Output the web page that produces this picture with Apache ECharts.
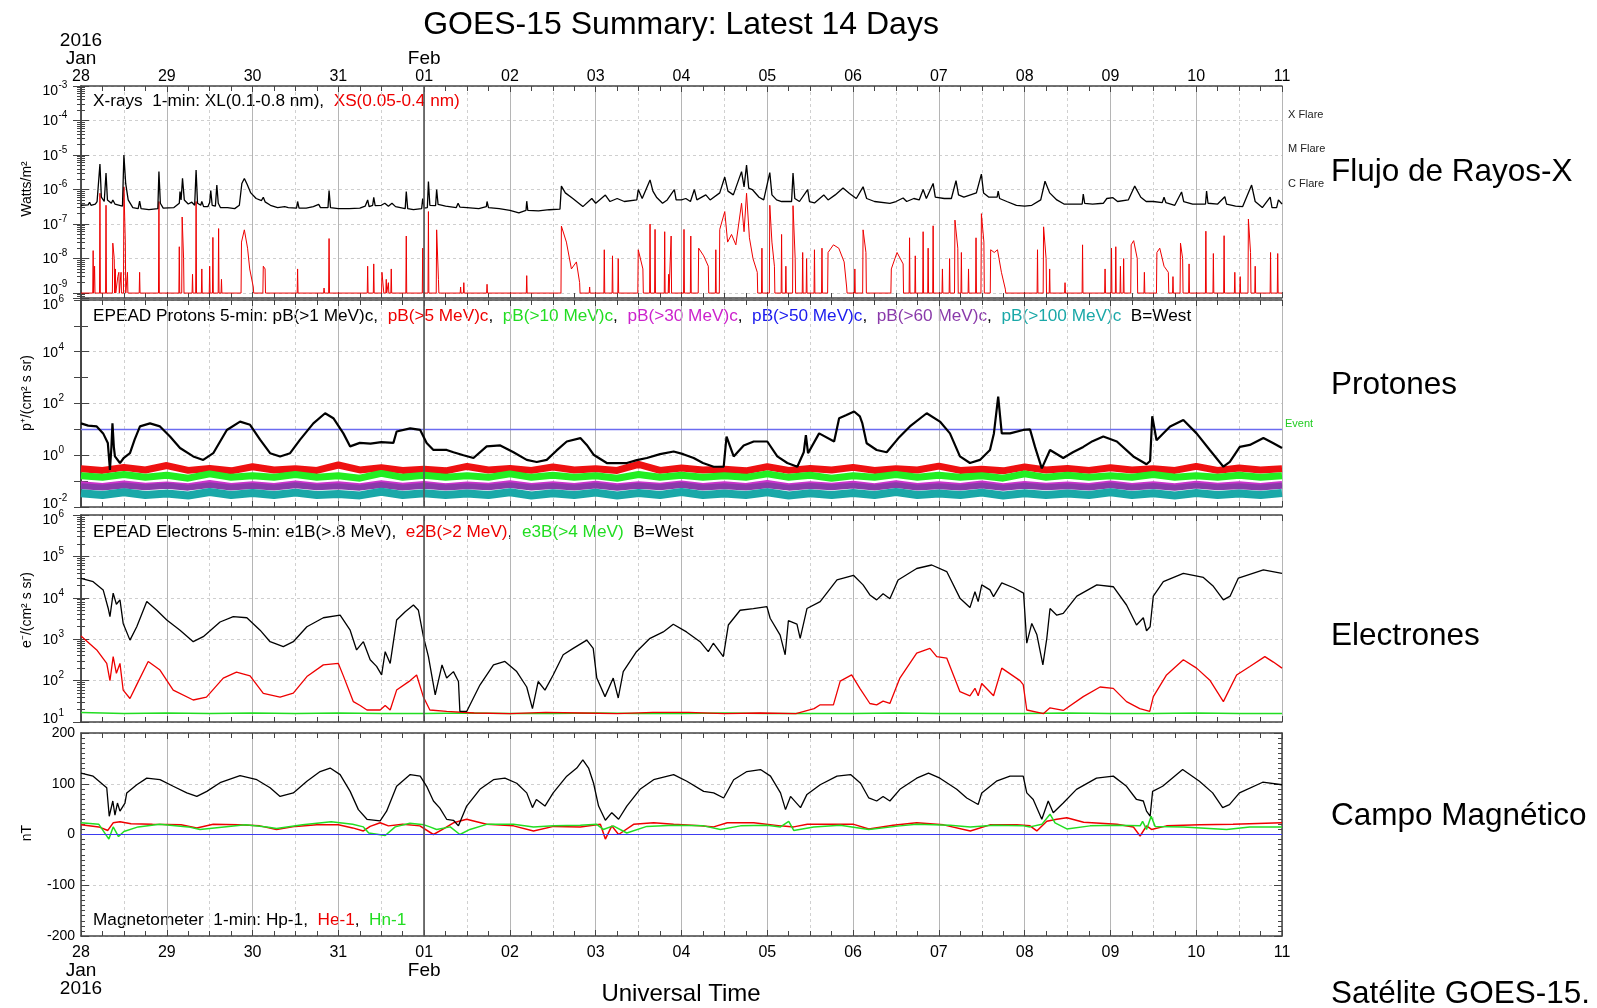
<!DOCTYPE html>
<html><head><meta charset="utf-8">
<script src="https://cdn.jsdelivr.net/npm/echarts@6/dist/echarts.min.js"></script>
<style>html,body{margin:0;padding:0;background:#fff}#c{width:1597px;height:1008px}</style>
</head><body><div id="c"></div>
<script>
// ---------------- DATA (hours since 2016-01-28 00:00 UT) ----------------
const DAY_LABELS = ['28','29','30','31','01','02','03','04','05','06','07','08','09','10','11'];
// decade exponents labelled on each log axis (tick labels)
const XRAY_EXPONENTS = [-3,-4,-5,-6,-7,-8,-9];
const PROTON_EXPONENTS = [6,4,2,0,-2];
const ELECTRON_EXPONENTS = [6,5,4,3,2,1];

// X-rays long channel XL (0.1-0.8 nm), W/m^2
const XL = [[0,3.5e-7],[2,3.6e-7],[2.4,4.3e-7],[2.8,3.5e-7],[4,3.8e-7],[4.5,4.5e-7],[5,4e-7],[5.3,5.5e-6],[5.7,6e-7],[6.5,4.5e-7],[7.0,3e-6],[7.4,5e-7],[8.5,4e-7],[8.9,5e-7],[9.5,3.8e-7],[11.6,3.3e-7],[12.0,1e-5],[12.5,1.5e-6],[13.2,5e-7],[14.5,3e-7],[16.0,2.8e-7],[16.4,4.6e-7],[16.8,2.8e-7],[19,2.6e-7],[21.5,2.8e-7],[21.8,3.3e-6],[22.2,4e-7],[23,2.9e-7],[26,3e-7],[27.5,4e-7],[27.7,8.7e-7],[28.0,5e-7],[28.4,2.1e-6],[28.9,5e-7],[30,3.8e-7],[31,4.3e-7],[31.8,3.5e-7],[32.2,3.7e-6],[32.6,4e-7],[33.5,3.5e-7],[33.8,4.5e-7],[34.3,3.2e-7],[35.5,3.2e-7],[36.0,4.2e-7],[36.3,9.3e-7],[36.7,3.5e-7],[37.6,3.3e-7],[38.0,1.35e-6],[38.4,4e-7],[39,3e-7],[41,3e-7],[43,2.8e-7],[44.3,3.5e-7],[45,1.5e-6],[45.7,2.1e-6],[46.5,1.4e-6],[47.5,8e-7],[49,5.5e-7],[50.5,4.8e-7],[51.0,6e-7],[51.5,4.4e-7],[53,3.5e-7],[55,3e-7],[57,3.2e-7],[58,3e-7],[60.3,2.9e-7],[60.6,4.5e-7],[61,2.9e-7],[63,2.9e-7],[65,3.2e-7],[66.5,3.7e-7],[67,3e-7],[69.1,3e-7],[69.4,9.3e-7],[69.8,3e-7],[72,2.8e-7],[75,2.8e-7],[78,2.9e-7],[79.5,3.3e-7],[80.2,5e-7],[80.6,3.2e-7],[81.6,3.5e-7],[81.9,5.9e-7],[82.3,3.4e-7],[84,3.5e-7],[85,4e-7],[86,3.3e-7],[87,4e-7],[88,3.2e-7],[90.7,2.8e-7],[91.0,8.7e-7],[91.4,2.8e-7],[93,2.6e-7],[95.3,2.8e-7],[95.6,5.5e-7],[96,2.9e-7],[96.9,3e-7],[97.2,1.7e-6],[97.6,3.5e-7],[99.2,3.4e-7],[99.5,1e-6],[99.9,3.7e-7],[102,3.3e-7],[105,3e-7],[105.5,4e-7],[106,3.1e-7],[108,3e-7],[111.3,2.8e-7],[113.4,3.2e-7],[113.6,4.5e-7],[114,3e-7],[117,2.8e-7],[120,2.5e-7],[122.5,2.1e-7],[124.5,2.5e-7],[124.7,4.6e-7],[125,2.5e-7],[128,2.4e-7],[131,2.6e-7],[134,2.7e-7],[134.4,1.26e-6],[135.5,8e-7],[137.6,5.5e-7],[140.4,3.2e-7],[142.9,5.5e-7],[144,4e-7],[146.7,6.9e-7],[148,4.5e-7],[150,5.5e-7],[152,4.5e-7],[155.5,5e-7],[155.9,1e-6],[157,5.5e-7],[159.2,1.9e-6],[160,9e-7],[161,6e-7],[162.7,4e-7],[164,5e-7],[166,1e-6],[166.5,5e-7],[168,5e-7],[169.2,5.5e-7],[170.5,4.5e-7],[171.6,1e-6],[172.3,5e-7],[174.8,7e-7],[176,5e-7],[178.7,8e-7],[180.1,2.3e-6],[181,9e-7],[182.5,7e-7],[184.8,3.3e-6],[185.5,1.2e-6],[186.2,5.1e-6],[186.8,1.1e-6],[187.8,1e-6],[189.7,6e-7],[191,5e-7],[192.7,3.1e-6],[193.3,7e-7],[194.6,5e-7],[196,4.5e-7],[198.8,4.5e-7],[199.2,3e-6],[199.7,5.5e-7],[201,4.5e-7],[203.3,1e-6],[203.8,4.5e-7],[205.2,4.1e-7],[207.8,7e-7],[209,5e-7],[211,7e-7],[213.2,1.1e-6],[215,7.7e-7],[216.9,5.5e-7],[218.8,1.2e-6],[219.8,5.5e-7],[222,4.5e-7],[226.3,4e-7],[228,4.5e-7],[230,5.7e-7],[231,4.5e-7],[233,5.5e-7],[234.5,5e-7],[235.6,1e-6],[236.5,5.5e-7],[238.4,1.5e-6],[239,6e-7],[241.5,5.5e-7],[243.5,5.5e-7],[244.8,1.8e-6],[245.5,7e-7],[247,6e-7],[250.5,8e-7],[251.9,2.8e-6],[252.5,8e-7],[254,6e-7],[256.3,6e-7],[256.6,9e-7],[257,5.5e-7],[259,4.5e-7],[261.7,3.5e-7],[264,3.3e-7],[266,3.5e-7],[268.5,5e-7],[269.7,1.74e-6],[271,8e-7],[273,5e-7],[275,3.8e-7],[278,3.8e-7],[280.1,3.8e-7],[280.4,7.4e-7],[280.8,4e-7],[283,3.8e-7],[286,4e-7],[287,5.5e-7],[288.7,5.8e-7],[290,4.5e-7],[293,5e-7],[294.8,1.26e-6],[296.5,6e-7],[298,4.5e-7],[300,4.5e-7],[302.5,4.2e-7],[303,6e-7],[303.5,4.2e-7],[306,3.5e-7],[307.9,8.5e-7],[308.5,4.5e-7],[311,3.8e-7],[314.6,3.8e-7],[314.9,9e-7],[315.3,4e-7],[318,3.8e-7],[320,6.2e-7],[320.5,3.8e-7],[323,3.3e-7],[325,3.2e-7],[327.5,1.35e-6],[328.5,4.5e-7],[330.5,3e-7],[332.7,6e-7],[333.2,3e-7],[334.5,3e-7],[335,5e-7],[336,3.8e-7]];

// X-rays short channel XS (0.05-0.4 nm): bursts above the instrument floor
const XS_FLOOR = 1e-9;
const XS_EVENTS = [[[3.4,1.7e-8]],[[3.8,6e-9]],[[5.3,7.8e-7]],[[7.0,3.5e-7]],[[8.9,2.8e-8],[9.3,1e-8]],[[9.6,5e-9]],[[10.3,3e-9],[10.6,4e-9]],[[11.2,4e-9]],[[12.0,1.2e-6],[12.4,3e-8]],[[13.0,4e-9]],[[16.4,4e-9]],[[21.8,4.5e-7]],[[27.5,2.2e-8]],[[28.3,1.6e-7],[28.7,1e-8]],[[31.2,3.5e-9]],[[32.2,4.5e-7]],[[33.8,5e-9]],[[36.0,6e-9]],[[36.9,4.1e-8]],[[38.5,7.4e-8]],[[39.3,2.5e-9]],[[44.9,3e-8],[45.7,6.8e-8],[46.6,2e-8],[47.2,5e-9],[48.2,1.5e-9]],[[51.0,6e-9],[51.5,5e-9]],[[60.6,5e-9]],[[68.0,1.4e-9]],[[69.4,3.8e-8]],[[80.2,6e-9]],[[81.9,7e-9]],[[84.2,4e-9],[84.6,4e-9]],[[85.4,2.5e-9]],[[86.0,2e-9]],[[86.8,5e-9]],[[91.0,4.5e-8]],[[95.6,2e-8]],[[97.2,2.3e-7]],[[99.5,6.8e-8],[100,2.5e-9]],[[106.2,1.5e-9]],[[107.1,2e-9]],[[113.6,1.8e-9]],[[124.7,3.2e-9]],[[134.4,8.7e-8],[135.8,3e-8],[137.2,5e-9],[138.6,8e-9],[139.5,2e-9]],[[142.3,1.5e-9]],[[146.4,1.8e-8]],[[148.7,1.2e-8]],[[150.3,1e-8]],[[155.9,1.8e-8],[157.2,5e-9]],[[159.2,1e-7]],[[160.6,7e-8]],[[163.3,6e-8]],[[164.4,3.5e-9]],[[165.1,4.5e-8]],[[168.7,7e-8]],[[170.6,4.5e-8]],[[172.8,2e-8],[174.2,1.2e-8],[175.5,6e-9]],[[177.6,1.8e-8]],[[178.7,7e-8],[180.1,2.3e-7],[180.9,3e-8],[182,5e-8],[183.2,2.5e-8],[184.8,4e-7],[185.5,6e-8],[186.2,7.8e-7],[187,4e-8],[188,1e-8],[189.2,4e-9]],[[190.5,2e-8]],[[192.7,3.5e-7],[193.3,3e-8],[194,6e-9]],[[196,5e-8]],[[197.2,6e-9]],[[199.2,3.4e-7],[199.8,1e-8]],[[201.9,1.5e-8]],[[203,1e-8]],[[205.2,1.8e-8]],[[207.3,2e-8]],[[209,1.5e-8],[210.5,2.5e-8],[212,2e-8],[213.5,8e-9],[214.2,1.5e-9]],[[216.5,5e-9]],[[218.8,6.8e-8],[219.6,1.5e-8]],[[226.7,5e-9],[228.3,1.5e-8],[230,7e-9]],[[231.8,4e-8]],[[233.4,1.2e-8]],[[235.6,6e-8]],[[237.0,2e-8]],[[238.4,8.9e-8]],[[241,5e-9]],[[243,1e-8]],[[244.5,1.3e-7],[245.3,2e-8]],[[246.3,1.5e-8]],[[248.3,5e-9]],[[250.4,4e-8]],[[251.9,2e-7],[252.6,3e-8]],[[254.5,1.8e-8],[255.5,1.5e-8],[256.4,1.8e-8],[257.5,4e-9],[258.6,1.3e-9]],[[267.6,1.8e-8]],[[269.3,8.3e-8],[270,1e-8]],[[271,5e-9]],[[275.3,2e-9]],[[280.2,2.5e-8]],[[286.5,5e-9]],[[288.3,2e-8]],[[289.5,2.2e-8]],[[290.8,6e-9]],[[291.7,1e-8]],[[293.8,2.5e-8],[294.5,3.3e-8],[295.5,1e-8]],[[297.5,4e-9]],[[301,1.5e-8],[301.8,2e-8],[303,6e-9],[304.2,4e-9]],[[305.5,3e-9]],[[307.6,2.8e-8],[308.2,1e-8]],[[310,7e-9]],[[314.7,6.2e-8]],[[316.8,1.4e-8]],[[319.8,4.6e-8]],[[322.8,4e-9]],[[324.3,3e-9]],[[326.6,1.4e-7],[327.2,1.5e-8]],[[328.5,6e-9]],[[332.8,1.5e-8]],[[334.8,1.4e-8]]];

// Flare thresholds
const FLARE_NAMES = ['X Flare','M Flare','C Flare'];
const FLARE_VALUES = [1e-4,1e-5,1e-6];

// Protons pB(>1 MeV)
const P1 = [[0,17],[2,14],[4.4,13],[6.2,7],[7.5,3],[8.1,0.27],[8.5,2],[8.8,17],[9.2,2],[9.5,0.9],[10.9,0.5],[12,0.8],[13.7,1.2],[15,4],[16.5,13],[19.3,17],[22.1,13],[24.9,5.3],[27.7,1.9],[31.4,0.9],[34.2,0.66],[37,1.2],[40.8,9.5],[44.5,20],[47.3,15],[50.1,4],[52.9,1.2],[55.7,0.9],[58.5,1.2],[61.3,4],[65,17],[68.3,42],[70.6,27],[73.4,7],[75.3,2.2],[78,3],[81,2.8],[84,3.2],[87.4,3],[88.3,8.3],[92.1,11],[94.9,9.5],[96.7,3],[98.6,1.6],[102.3,1.6],[104.2,1.3],[107,1.0],[109.8,0.78],[113.5,2.2],[117.3,2.4],[121,1.3],[124.7,0.66],[127.5,0.55],[130.3,0.66],[133,1.5],[135.9,3.4],[139.7,4.6],[141.5,2.5],[143.4,1.05],[147.1,0.5],[152.7,0.5],[155.5,0.65],[158.3,0.78],[162,1.1],[165.8,1.4],[168.5,1.1],[171.4,0.78],[174,0.5],[177,0.36],[179.8,0.36],[180.6,5.3],[182.6,0.9],[185.4,2.4],[188.2,3.4],[192,3.4],[194.8,0.9],[197.6,0.5],[200.4,0.36],[202.2,1.3],[202.8,6],[203.4,1.2],[206.5,7],[210.7,3.4],[212.1,27],[214,35],[216.3,49],[217.9,32],[218.6,17],[219.8,2.9],[222.6,1.6],[225.4,1.3],[228.7,4.6],[231.9,13],[236.6,42],[240.3,20],[243.1,7],[245.9,0.9],[248.7,0.5],[251.5,0.66],[254.3,1.6],[255.4,7],[256.6,186],[257.6,7],[259.9,7],[263.6,9.5],[265.5,10],[266.9,2.1],[268.8,0.31],[271.1,1.6],[274.8,0.78],[277.5,1.3],[280.4,2.1],[283,3.5],[286,5.3],[289.8,3.4],[294.4,0.9],[298.1,0.45],[299.1,0.6],[299.7,32],[300.9,3.8],[304.7,13],[308.4,23],[312.1,7],[315.8,1.6],[319.6,0.36],[321.4,0.55],[324.2,2.1],[327,2.5],[330.8,4.6],[333.6,2.9],[336,1.9]];
// Higher-energy proton channels (background level), sampled every 6 h
const BAND_HOURS = [0,6,12,18,24,30,36,42,48,54,60,66,72,78,84,90,96,102,108,114,120,126,132,138,144,150,156,162,168,174,180,186,192,198,204,210,216,222,228,234,240,246,252,258,264,270,276,282,288,294,300,306,312,318,324,330,336];
const P5 = [0.30,0.26,0.34,0.27,0.40,0.26,0.31,0.25,0.36,0.27,
  0.30,0.26,0.42,0.27,0.33,0.26,0.29,0.25,0.37,0.27,
  0.31,0.26,0.35,0.27,0.30,0.26,0.44,0.26,0.32,0.27,
  0.29,0.25,0.36,0.26,0.31,0.27,0.34,0.26,0.30,0.27,
  0.38,0.26,0.29,0.25,0.35,0.27,0.31,0.26,0.33,0.27,
  0.30,0.26,0.37,0.26,0.32,0.27,0.30];
const P10 = [0.16,0.14,0.18,0.14,0.17,0.13,0.19,0.14,0.16,0.14,
  0.18,0.14,0.16,0.13,0.20,0.14,0.17,0.14,0.16,0.14,
  0.19,0.14,0.17,0.14,0.16,0.13,0.18,0.14,0.17,0.14,
  0.16,0.14,0.19,0.14,0.17,0.13,0.16,0.14,0.18,0.14,
  0.17,0.14,0.16,0.13,0.19,0.14,0.17,0.14,0.16,0.14,
  0.18,0.14,0.16,0.14,0.17,0.14,0.16];
const P30 = [0.080,0.068,0.085,0.070,0.078,0.066,0.088,0.068,0.080,0.068,
  0.084,0.070,0.079,0.066,0.086,0.069,0.081,0.067,0.078,0.070,
  0.087,0.068,0.080,0.068,0.083,0.066,0.079,0.070,0.085,0.068,
  0.080,0.068,0.088,0.067,0.079,0.069,0.082,0.067,0.086,0.068,
  0.079,0.068,0.084,0.066,0.081,0.070,0.078,0.068,0.085,0.068,
  0.080,0.067,0.083,0.069,0.079,0.068,0.081];
const P50 = [0.072,0.066,0.075,0.068,0.071,0.064,0.076,0.067,0.072,0.065,
  0.074,0.068,0.070,0.063,0.077,0.067,0.072,0.066,0.070,0.068,
  0.075,0.065,0.071,0.067,0.074,0.063,0.072,0.068,0.076,0.066,
  0.071,0.067,0.075,0.064,0.070,0.068,0.073,0.065,0.076,0.067,
  0.070,0.066,0.074,0.064,0.072,0.068,0.070,0.065,0.075,0.067,
  0.071,0.064,0.073,0.068,0.070,0.066,0.072];
const P60 = [0.064,0.057,0.068,0.058,0.066,0.056,0.070,0.057,0.065,0.057,
  0.069,0.058,0.063,0.056,0.071,0.057,0.066,0.057,0.064,0.058,
  0.070,0.057,0.065,0.057,0.068,0.056,0.066,0.058,0.071,0.057,
  0.064,0.057,0.069,0.056,0.065,0.058,0.067,0.057,0.070,0.057,
  0.064,0.057,0.068,0.056,0.066,0.058,0.064,0.057,0.069,0.057,
  0.065,0.056,0.067,0.058,0.064,0.057,0.066];
const P100 = [0.034,0.029,0.037,0.029,0.033,0.028,0.038,0.029,0.035,0.029,
  0.036,0.029,0.032,0.028,0.039,0.029,0.034,0.029,0.033,0.029,
  0.037,0.028,0.034,0.029,0.036,0.028,0.035,0.029,0.038,0.029,
  0.033,0.029,0.037,0.028,0.034,0.029,0.035,0.029,0.038,0.029,
  0.033,0.029,0.036,0.028,0.034,0.029,0.033,0.029,0.037,0.029,
  0.034,0.028,0.035,0.029,0.033,0.029,0.035];
const EVENT_LEVEL = 10;

// Electrons
const E1 = [[0,29500],[3.4,24500],[6.2,15500],[7.6,5600],[8.1,3500],[9.0,13000],[9.9,7000],[10.9,8900],[11.8,2400],[13.7,950],[15.6,2000],[18.4,8100],[21.2,5000],[24,2900],[27.7,1650],[31.4,870],[34.2,1150],[38.9,2600],[42.6,3500],[46.4,3300],[50.1,1650],[52.9,870],[56.6,660],[59.4,870],[63.2,2000],[67.8,3300],[72.5,3800],[75.3,1650],[77.1,550],[79,870],[80.9,320],[82.7,220],[84.1,137],[85.1,500],[86.5,260],[88.3,2900],[90.7,4600],[93,6700],[94.4,5000],[95.8,1150],[97.2,380],[99.1,45],[101,240],[102.3,115],[104.2,165],[105.6,95],[106,18],[107.9,18],[111.6,78],[115.4,240],[118.6,290],[121.9,165],[124.7,70],[126.3,21],[127.9,95],[129.8,59],[132.1,137],[134.9,420],[137.7,600],[141.5,950],[143.3,600],[144.3,115],[146.6,41],[148.9,115],[150.3,38],[151.7,165],[155.4,500],[159.2,1050],[162.9,1500],[165.7,2300],[169.4,1500],[173.2,870],[175.5,500],[176.9,800],[179.7,380],[181.1,2200],[184.4,5000],[188.1,5500],[191.9,6100],[192.8,3200],[195.6,1260],[197,420],[197.9,2800],[200.3,2300],[201.2,1050],[203.1,5500],[206.8,8100],[211.5,27000],[216.1,35000],[218.8,20500],[220.7,11700],[222.6,8900],[224.4,12500],[226.3,9500],[228.6,27000],[233.8,51000],[238,62000],[242.2,43000],[245.9,9800],[248.7,5800],[250.1,14000],[251,8100],[252,20500],[254.3,15500],[255.3,10700],[257.6,23000],[260.9,17500],[263.7,13000],[264.6,800],[266,2400],[267.4,1300],[269.1,240],[270.2,1050],[271.1,5500],[273,3800],[274.8,4200],[278.6,11000],[284.2,20500],[288.8,18500],[292.5,6700],[295.3,2200],[297.2,3300],[298.1,1600],[299.1,2000],[300,11000],[302.8,24500],[308.4,39000],[314,31000],[316.8,19000],[319.6,8900],[321.5,11000],[323.8,30000],[330.8,47000],[336,39000]];
const E2 = [[0,1200],[4.4,550],[7.2,260],[8.1,100],[9,380],[9.9,150],[10.9,260],[11.8,59],[13.7,37],[15.6,80],[18.8,290],[22.1,180],[25.8,59],[31.4,34],[35.1,40],[39.8,115],[43.5,160],[47.3,130],[51,49],[55.7,40],[59.4,50],[63.2,125],[67.8,240],[72,260],[73.4,130],[76.2,31],[78.1,25],[80,19.5],[83.7,19.5],[85.1,25],[86.5,19.5],[88.3,59],[92.1,100],[93.9,137],[95.8,40],[97.6,19.5],[102.3,18],[110,16.5],[120,16],[130,17],[140,16.5],[150,16],[160,17],[170,17],[180,16],[190,16.5],[200,16],[205.1,21],[206.8,26],[210.5,26],[212.4,97],[215.6,137],[217.9,65],[220.7,28],[222.6,26],[224.4,32],[226.3,28],[229.1,115],[233.8,460],[237.5,600],[239.4,380],[242.2,350],[245.9,54],[248.7,43],[250.1,65],[251,43],[252,85],[255.3,43],[257.6,200],[262.7,100],[263.6,80],[264.6,19.5],[269.3,16],[271.1,22],[274.8,19],[280.4,41],[285.1,70],[288.8,65],[292.5,31],[296.2,21],[299,18],[300,41],[303.7,137],[308.4,320],[312.1,200],[315.9,100],[319.6,31],[323.3,137],[327,220],[331.2,380],[333.6,280],[336,200]];
const E3 = [[0,17],[12,16],[24,16.5],[36,16],[48,16.5],[60,16],[72,16.5],[84,16],[96,16],[108,16.5],[120,16],[132,16],[144,16.5],[156,16],[168,16],[180,16.5],[192,16],[204,16],[216,16],[228,16.5],[240,16],[252,16],[264,16],[276,16.5],[288,16],[300,16],[312,16.5],[324,16],[336,16]];

// Magnetometer (nT)
const HP = [[0,121],[3.4,115],[6.2,98],[7.2,92],[7.9,36],[8.9,66],[9.5,38],[10.2,62],[10.9,46],[12.3,62],[12.8,82],[15.6,98],[18.4,111],[22.1,108],[25.8,95],[29.6,82],[32.4,75],[35.2,85],[38.9,102],[44.5,116],[49.2,108],[52.9,92],[55.7,75],[59.4,82],[63.2,105],[66.9,124],[69.7,131],[72.5,118],[75.3,85],[77.6,49],[80,30],[83.7,27],[85.5,46],[88.3,95],[92.1,118],[94.9,115],[96.7,95],[98.6,66],[100.4,52],[102.3,30],[104.2,28],[105.6,17],[107.9,56],[111.6,89],[115.4,108],[118.6,111],[121.9,101],[124.7,82],[126.3,53],[127.4,69],[129.8,56],[132.1,82],[135.9,115],[138.7,131],[140.4,147],[142,131],[143.4,101],[144.8,56],[146.7,28],[148.5,43],[150.4,30],[152.7,56],[156.4,89],[160.2,108],[165.8,118],[169.5,105],[174.2,85],[177,82],[179.8,72],[182.6,108],[186.3,124],[190.1,128],[192.9,115],[195.7,82],[197.1,49],[198.5,75],[201.3,53],[203.1,79],[206.8,98],[211.5,115],[215.3,118],[218.1,101],[220.4,72],[222.6,66],[224.4,75],[226.3,66],[229.1,89],[233.8,111],[237.1,121],[240.3,111],[245,89],[247.8,72],[251,59],[252,82],[256.1,105],[259.9,115],[263.6,115],[264.6,82],[266.4,69],[268.8,30],[270.6,66],[272,43],[274.8,62],[278.5,89],[284.1,111],[288.8,115],[292.5,95],[295.3,69],[297.2,66],[298.1,46],[299.1,36],[299.8,85],[302.6,95],[308.2,128],[312.9,105],[316.6,82],[319.4,53],[321.3,59],[324.1,82],[330.6,103],[336,98]];
const HE = [[0,19],[5,15],[7.5,8],[9,23],[10.9,25],[14,21],[20,20],[28,19],[32.4,13],[37,20],[44,19],[50,17],[54.7,10],[60,16],[66,19],[72,19],[76,13],[79,7],[80.9,16],[83.7,23],[86,17],[90,20],[94.8,17],[98.6,0],[101.4,11],[104.2,23],[107.9,30],[113.5,20],[121,17],[126.6,7],[132.2,16],[139.7,15],[145.3,20],[146.7,-9],[148.5,17],[150.4,0],[154.6,20],[160.2,23],[165.8,20],[173.3,17],[177,15],[180.8,23],[188.2,23],[195.7,17],[199.4,15],[203.2,20],[210.6,20],[216.2,20],[220.4,11],[227.2,18],[233.8,23],[241.3,19],[248.8,7],[254.3,19],[261.8,19],[265.5,17],[267.4,7],[270.2,26],[273,30],[275.8,33],[280.5,24],[289.8,20],[294.4,15],[296.3,-3],[298.1,17],[299.5,10],[303.7,17],[313,19],[322.3,20],[336,23]];
const HN = [[0,23],[5,20],[7.8,-9],[9,15],[10.5,-4],[12,6],[16,15],[22,20],[30,15],[33.3,10],[40,15],[46,19],[52,15],[54.7,12],[62,19],[70,25],[76,20],[79,15],[80.5,3],[85.1,-2],[87.9,15],[92,22],[96,19],[97.6,15],[99.5,10],[103.3,15],[106,0],[108.8,10],[113.5,20],[121,20],[126.6,15],[132.2,17],[139.7,18],[144.3,20],[146.1,10],[148.9,17],[152.7,3],[158.3,16],[165.8,18],[174.2,17],[178.9,10],[184.5,17],[192,18],[195.7,15],[198,26],[199.4,8],[205,15],[212.4,18],[220.4,10],[229.1,17],[233.8,20],[243.1,18],[248.8,15],[255.3,18],[263.7,17],[265.5,15],[268.8,20],[271.1,40],[272.5,23],[275.8,11],[282.3,17],[289.8,18],[296.3,17],[297,26],[298.1,10],[299.4,36],[300.5,16],[308.4,15],[320.5,10],[327,15],[336,15]];

// ---------------- CHART ----------------
const FONT = '"Liberation Sans", Arial, Helvetica, sans-serif';
const FRAME = '#444';
const T_START = 0, T_END = 336, FEB1 = 96;
const XRAY_AXIS_MIN = 7.2e-10;   // frame extends a little below the 1e-9 floor

function buildXS() {
  const out = [[T_START, XS_FLOOR]];
  XS_EVENTS.forEach(ev => {
    out.push([ev[0][0] - 0.12, XS_FLOOR]);
    ev.forEach(p => out.push(p));
    out.push([ev[ev.length - 1][0] + 0.12, XS_FLOOR]);
  });
  out.push([T_END, XS_FLOOR]);
  return out;
}
function band(vals) { return BAND_HOURS.map((h, i) => [h, vals[i]]); }

const GRIDS = [
  {left: 81, right: 315, top: 86, height: 212},
  {left: 81, right: 315, top: 300, height: 207},
  {left: 81, right: 315, top: 515, height: 207},
  {left: 81, right: 315, top: 733, height: 203}
];

function topLabel(v) {
  const i = Math.round(v / 24); const d = DAY_LABELS[i];
  if (i === 0) return '{y|2016}\n{y|Jan}\n{d|' + d + '}';
  if (i === 4) return '{y|Feb}\n{d|' + d + '}';
  return '{d|' + d + '}';
}
function bottomLabel(v) {
  const i = Math.round(v / 24); const d = DAY_LABELS[i];
  if (i === 0) return '{d|' + d + '}\n{y|Jan}\n{y|2016}';
  if (i === 4) return '{d|' + d + '}\n{y|Feb}';
  return '{d|' + d + '}';
}
const DAY_RICH = {
  d: {fontSize: 16, lineHeight: 18, fontFamily: FONT, color: '#000'},
  y: {fontSize: 19, lineHeight: 18, fontFamily: FONT, color: '#000'}
};

const xAxes = [];
GRIDS.forEach((g, gi) => {
  xAxes.push({
    gridIndex: gi, type: 'value', min: T_START, max: T_END, interval: 24, position: 'bottom',
    axisLine: {show: true, onZero: false, lineStyle: {color: FRAME, width: 1.5}},
    axisTick: {show: true, inside: true, length: 6, lineStyle: {color: FRAME}},
    axisLabel: {show: gi === 3, margin: 8, formatter: bottomLabel, rich: DAY_RICH},
    splitLine: {show: true, lineStyle: {color: '#b5b5b5', width: 1}},
    minorTick: {show: false, splitNumber: 2},
    minorSplitLine: {show: true, lineStyle: {color: '#d0d0d0', width: 1, type: [3, 3]}}
  });
  xAxes.push({
    gridIndex: gi, type: 'value', min: T_START, max: T_END, interval: 24, position: 'top',
    axisLine: {show: true, onZero: false, lineStyle: {color: FRAME, width: 1.5}},
    axisTick: {show: true, inside: true, length: 6, lineStyle: {color: FRAME}},
    minorTick: {show: true, splitNumber: 4, length: 5, lineStyle: {color: FRAME}},
    axisLabel: {show: gi === 0, margin: 0, formatter: topLabel, rich: DAY_RICH},
    splitLine: {show: false}
  });
  xAxes.push({
    gridIndex: gi, type: 'value', min: T_START, max: T_END, interval: 6, position: 'bottom',
    axisLine: {show: false, onZero: false},
    axisTick: {show: true, inside: true, length: 5, lineStyle: {color: FRAME}},
    axisLabel: {show: false}, splitLine: {show: false}
  });
});

const DASH = {show: true, lineStyle: {color: '#cfcfcf', width: 1, type: [3, 3]}};
function logAxis(gi, base, min, max, split, side, minor, grid, tickLen) {
  return {
    gridIndex: gi, type: 'log', logBase: base, min: min, max: max, splitNumber: split, position: side,
    axisLine: {show: true, lineStyle: {color: FRAME, width: 1.5}},
    axisTick: {show: true, inside: true, length: tickLen || 8, lineStyle: {color: FRAME}},
    minorTick: {show: minor, splitNumber: 9, length: 4, lineStyle: {color: FRAME}},
    axisLabel: {show: false},
    splitLine: grid ? DASH : {show: false}
  };
}
function linAxis(gi, side, labels) {
  return {
    gridIndex: gi, type: 'value', min: -200, max: 200, interval: 100, position: side,
    axisLine: {show: true, onZero: false, lineStyle: {color: FRAME, width: 1.5}},
    axisTick: {show: true, inside: true, length: 8, lineStyle: {color: FRAME}},
    minorTick: {show: true, splitNumber: 10, length: 4, lineStyle: {color: FRAME}},
    axisLabel: {show: labels, margin: 6, fontSize: 14, fontFamily: FONT, color: '#000'},
    splitLine: labels ? DASH : {show: false}
  };
}
const yAxes = [
  logAxis(0, 10, XRAY_AXIS_MIN, 1e-3, 6, 'left', true, true),    // 0
  logAxis(0, 10, XRAY_AXIS_MIN, 1e-3, 6, 'right', true, false),  // 1
  logAxis(1, 100, 1e-2, 1e6, 4, 'left', false, true),            // 2 grid every 2 decades
  logAxis(1, 10, 1e-2, 1e6, 8, 'left', false, false, 7),         // 3 decade ticks
  logAxis(1, 10, 1e-2, 1e6, 8, 'right', false, false, 7),        // 4
  logAxis(2, 10, 1e1, 1e6, 5, 'left', true, true),               // 5
  logAxis(2, 10, 1e1, 1e6, 5, 'right', true, false),             // 6
  linAxis(3, 'left', true),                                       // 7
  linAxis(3, 'right', false)                                      // 8
];

function febLine() { return {xAxis: FEB1, lineStyle: {color: '#555', width: 1.6, type: 'solid'}, label: {show: false}}; }
function line(name, data, color, width, xi, yi, extra) {
  return Object.assign({
    name: name, type: 'line', data: data, xAxisIndex: xi, yAxisIndex: yi,
    showSymbol: false, symbol: 'none', animation: false, silent: true,
    lineStyle: {color: color, width: width}, itemStyle: {color: color}
  }, extra || {});
}
const FLARE_COLORS = ['#3b3bf0', '#c040c0', '#33dd33'];

const series = [
  line('XS', buildXS(), '#ee0000', 1, 0, 0, {z: 2}),
  line('XL', XL, '#000', 1.3, 0, 0, {z: 3, markLine: {
    symbol: ['none', 'none'], silent: true, animation: false, label: {show: false},
    data: FLARE_VALUES.map((v, i) => ({
      yAxis: v, lineStyle: {color: FLARE_COLORS[i], width: 1.2, type: 'solid'}, label: {show: false}
    })).concat([febLine()])
  }}),
  line('pB>5', band(P5), '#ee1111', 7, 3, 3, {z: 2}),
  line('pB>10', band(P10), '#22ee22', 7, 3, 3, {z: 3}),
  line('pB>50', band(P50), '#1a1aff', 4, 3, 3, {z: 3}),
  line('pB>30', band(P30), '#cc33cc', 5, 3, 3, {z: 3}),
  line('pB>60', band(P60), '#8a3aaa', 6, 3, 3, {z: 3}),
  line('pB>100', band(P100), '#1aa8a8', 8, 3, 3, {z: 4}),
  line('pB>1', P1, '#000', 2.2, 3, 3, {z: 5, markLine: {
    symbol: ['none', 'none'], silent: true, animation: false,
    data: [{yAxis: EVENT_LEVEL, lineStyle: {color: '#6b6bf0', width: 1.3, type: 'solid'},
      label: {show: true, position: 'end', formatter: 'Event', fontSize: 11, fontFamily: FONT, color: '#22cc22', distance: 3, offset: [0, -5]}},
      febLine()]
  }}),
  line('e3B', E3, '#22dd22', 1.6, 6, 5, {z: 2}),
  line('e2B', E2, '#ee0000', 1.3, 6, 5, {z: 3}),
  line('e1B', E1, '#000', 1.3, 6, 5, {z: 4, markLine: {symbol: ['none', 'none'], silent: true, animation: false, data: [febLine()]}}),
  line('He', HE, '#ee0000', 1.5, 9, 7, {z: 3}),
  line('Hn', HN, '#22dd22', 1.5, 9, 7, {z: 4}),
  line('Hp', HP, '#000', 1.3, 9, 7, {z: 5, markLine: {
    symbol: ['none', 'none'], silent: true, animation: false,
    data: [{yAxis: 0, lineStyle: {color: '#3b3bf0', width: 1.2, type: 'solid'}, label: {show: false}}, febLine()]
  }})
];

function txt(x, y, text, size, opts) {
  return {type: 'text', x: x, y: y, silent: true, rotation: (opts && opts.rot) || 0,
    style: Object.assign({text: text, fontSize: size, fontFamily: FONT, fill: '#000',
      textAlign: (opts && opts.align) || 'left', textVerticalAlign: 'middle'}, (opts && opts.style) || {})};
}
function richTxt(x, y, parts, size) {
  const rich = {}; let s = '';
  parts.forEach((p, i) => { rich['p' + i] = {fontSize: size, fontFamily: FONT, fill: p[1], color: p[1]}; s += '{p' + i + '|' + p[0] + '}'; });
  return {type: 'text', x: x, y: y, silent: true, style: {text: s, rich: rich, fontSize: size, fontFamily: FONT, textAlign: 'left', textVerticalAlign: 'middle'}};
}

const graphics = [
  txt(681, 25, 'GOES-15 Summary: Latest 14 Days', 32, {align: 'center'}),
  txt(681, 994, 'Universal Time', 24, {align: 'center'}),
  txt(1331, 172, 'Flujo de Rayos-X', 31.5),
  txt(1331, 385, 'Protones', 31.5),
  txt(1331, 636, 'Electrones', 31.5),
  txt(1331, 816, 'Campo Magnético', 31.5),
  txt(1331, 994, 'Satélite GOES-15.', 31.5),
  txt(27, 189, 'Watts/m²', 14, {align: 'center', rot: Math.PI / 2}),
  txt(27, 393, 'p⁺/(cm² s sr)', 14, {align: 'center', rot: Math.PI / 2}),
  txt(27, 610, 'e⁻/(cm² s sr)', 14, {align: 'center', rot: Math.PI / 2}),
  txt(27, 833, 'nT', 14, {align: 'center', rot: Math.PI / 2}),
  richTxt(93, 101, [['X-rays  1-min: XL(0.1-0.8 nm),  ', '#000'], ['XS(0.05-0.4 nm)', '#ee0000']], 17.2),
  richTxt(93, 316, [['EPEAD Protons 5-min: pB(>1 MeV)c,  ', '#000'], ['pB(>5 MeV)c', '#ee0000'], [',  ', '#000'],
    ['pB(>10 MeV)c', '#22dd22'], [',  ', '#000'], ['pB(>30 MeV)c', '#cc22cc'], [',  ', '#000'],
    ['pB(>50 MeV)c', '#1a1aee'], [',  ', '#000'], ['pB(>60 MeV)c', '#8a3aaa'], [',  ', '#000'],
    ['pB(>100 MeV)c', '#1aa8a8'], ['  B=West', '#000']], 17.2),
  richTxt(93, 532, [['EPEAD Electrons 5-min: e1B(>.8 MeV),  ', '#000'], ['e2B(>2 MeV)', '#ee0000'], [',  ', '#000'],
    ['e3B(>4 MeV)', '#22dd22'], ['  B=West', '#000']], 17.2),
  richTxt(93, 920, [['Magnetometer  1-min: Hp-1,  ', '#000'], ['He-1', '#ee0000'], [',  ', '#000'], ['Hn-1', '#22dd22']], 17.2)
];

const chart = echarts.init(document.getElementById('c'), null, {renderer: 'canvas', width: 1597, height: 1008});
chart.setOption({
  backgroundColor: '#fff',
  animation: false,
  textStyle: {fontFamily: FONT},
  grid: GRIDS,
  xAxis: xAxes,
  yAxis: yAxes,
  series: series,
  graphic: graphics
});

// Flare-class labels and 10^n tick labels, positioned through the axis scales
const extra = [];
const xEnd = chart.convertToPixel({xAxisIndex: 0}, T_END);
FLARE_VALUES.forEach((v, i) => {
  extra.push(txt(xEnd + 6, chart.convertToPixel({yAxisIndex: 0}, v) - 6, FLARE_NAMES[i], 11, {style: {fill: '#222'}}));
});
[[0, XRAY_EXPONENTS], [3, PROTON_EXPONENTS], [5, ELECTRON_EXPONENTS]].forEach(([ai, exps]) => {
  exps.forEach((e, k) => {
    let y = chart.convertToPixel({yAxisIndex: ai}, Math.pow(10, e));
    if (k === 0) y += 4;
    if (k === exps.length - 1) y -= 4;
    extra.push(txt(58, y + 1, '10', 14, {align: 'right'}));
    extra.push(txt(58.5, y - 5, String(e), 10));
  });
});
chart.setOption({graphic: graphics.concat(extra)});
</script>
</body></html>
